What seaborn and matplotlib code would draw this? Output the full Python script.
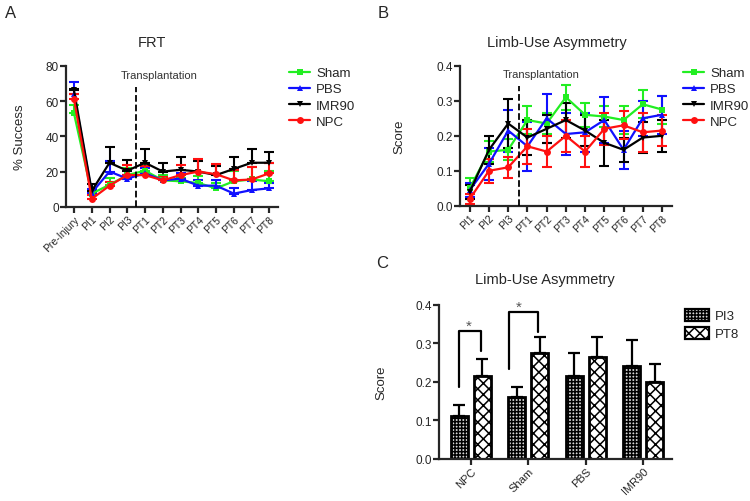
import numpy as np
import pandas as pd
import matplotlib
matplotlib.use("Agg")
import matplotlib.pyplot as plt
from matplotlib.lines import Line2D
from matplotlib.patches import Patch
import seaborn as sns

# ---- data ----
groups = ["Sham", "PBS", "IMR90", "NPC"]
colors = {"Sham": "#22ee22", "PBS": "#1010ff", "IMR90": "#000000", "NPC": "#ff1010"}
marks = {"Sham": "s", "PBS": "^", "IMR90": "v", "NPC": "o"}

frt_times = ["Pre-Injury", "PI1", "PI2", "PI3", "PT1", "PT2", "PT3", "PT4",
             "PT5", "PT6", "PT7", "PT8"]
frt_sham = [53, 7.5, 12.5, 18, 20.5, 15, 14.5, 13.5, 10.5, 14.5, 15.5, 14.5]
frt_pbs = [64, 8, 20, 16, 19, 15, 16, 12, 12, 7.5, 9.5, 10.5]
frt_imr90 = [66, 9, 25, 20.5, 25, 20, 21, 20, 18, 21.5, 25, 25]
frt_npc = [61, 4.5, 12, 18, 18, 15, 18, 20, 18.5, 15, 15.5, 19]
frt_err_sham = [5, 2, 4, 4, 3, 3, 2, 4, 3, 6, 7, 6]
frt_err_pbs = [7, 2, 6, 2, 3, 2, 3, 3, 3, 3, 5, 3]
frt_err_imr90 = [1, 4, 9, 6, 8, 5, 7, 6, 5, 7, 8, 6]
frt_err_npc = [3, 2, 2, 6, 5, 2, 6, 7, 6, 6, 7, 6]

lua_times = ["PI1", "PI2", "PI3", "PT1", "PT2", "PT3", "PT4", "PT5", "PT6", "PT7", "PT8"]
lua_sham = [0.05, 0.155, 0.16, 0.245, 0.235, 0.31, 0.26, 0.255, 0.245, 0.29, 0.275]
lua_pbs = [0.045, 0.12, 0.215, 0.17, 0.25, 0.205, 0.21, 0.245, 0.16, 0.25, 0.26]
lua_imr90 = [0.04, 0.16, 0.235, 0.195, 0.22, 0.245, 0.215, 0.18, 0.16, 0.195, 0.2]
lua_npc = [0.02, 0.1, 0.11, 0.17, 0.155, 0.2, 0.155, 0.22, 0.23, 0.21, 0.215]
lua_err_sham = [0.03, 0.03, 0.03, 0.04, 0.03, 0.035, 0.035, 0.03, 0.04, 0.04, 0.04]
lua_err_pbs = [0.02, 0.045, 0.06, 0.07, 0.07, 0.06, 0.055, 0.065, 0.055, 0.05, 0.055]
lua_err_imr90 = [0.02, 0.04, 0.07, 0.05, 0.04, 0.05, 0.045, 0.065, 0.035, 0.045, 0.045]
lua_err_npc = [0.015, 0.035, 0.03, 0.05, 0.045, 0.045, 0.045, 0.045, 0.04, 0.055, 0.045]

bar_groups = ["NPC", "Sham", "PBS", "IMR90"]
bar_pi3 = [0.11, 0.16, 0.215, 0.24]
bar_pt8 = [0.215, 0.275, 0.265, 0.2]
bar_err_pi3 = [0.03, 0.027, 0.06, 0.068]
bar_err_pt8 = [0.045, 0.04, 0.052, 0.045]

# ---- style ----
sns.set_style("ticks")
plt.rcParams["font.family"] = ["Liberation Sans", "DejaVu Sans"]
plt.rcParams["axes.linewidth"] = 1.6
plt.rcParams["xtick.major.width"] = 1.6
plt.rcParams["ytick.major.width"] = 1.6
plt.rcParams["xtick.major.size"] = 4
plt.rcParams["ytick.major.size"] = 4
plt.rcParams["hatch.linewidth"] = 1.1

fig = plt.figure(figsize=(7.5, 5.02), dpi=100)
axA = fig.add_axes([0.088, 0.586, 0.283, 0.281])
axB = fig.add_axes([0.613, 0.588, 0.283, 0.279])
axC = fig.add_axes([0.585, 0.084, 0.311, 0.307])


def long_frame(times, series):
    rows = []
    for g, vals in series.items():
        for t, v in zip(times, vals):
            rows.append({"time": t, "group": g, "value": v})
    return pd.DataFrame(rows)


def line_panel(ax, times, series, errs, both):
    df = long_frame(times, series)
    x = np.arange(len(times))
    for g in groups:
        e = np.array(errs[g])
        yerr = [e, e] if both else [np.zeros_like(e), e]
        ax.errorbar(x, series[g], yerr=yerr, fmt="none", ecolor=colors[g],
                    elinewidth=1.5, capsize=3.5, capthick=1.5, zorder=2)
    sns.lineplot(data=df, x="time", y="value", hue="group", style="group",
                 hue_order=groups, style_order=groups, palette=colors,
                 markers=marks, dashes=False, markersize=5, linewidth=1.6,
                 markeredgewidth=0, sort=False, legend=False, ax=ax, zorder=3)
    ax.set_xlabel("")
    ax.tick_params(axis="x", labelrotation=45, labelsize=7.5, pad=1)
    ax.tick_params(axis="y", labelsize=8.5, pad=1)
    for lab in ax.get_xticklabels():
        lab.set_ha("right")
        lab.set_rotation_mode("anchor")
    sns.despine(ax=ax)
    handles = [Line2D([0], [0], color=colors[g], marker=marks[g], lw=1.6,
                      markersize=5, markeredgewidth=0) for g in groups]
    return handles


leg_kw = dict(frameon=False, fontsize=9.5, handlelength=1.6, labelspacing=0.3,
              handletextpad=0.45, borderaxespad=0, borderpad=0)

# ---- A: FRT ----
hA = line_panel(axA, frt_times,
                {"Sham": frt_sham, "PBS": frt_pbs, "IMR90": frt_imr90, "NPC": frt_npc},
                {"Sham": frt_err_sham, "PBS": frt_err_pbs, "IMR90": frt_err_imr90,
                 "NPC": frt_err_npc}, both=False)
axA.set_xlim(-0.45, 11.5)
axA.set_ylim(0, 80)
axA.set_yticks([0, 20, 40, 60, 80])
axA.set_ylabel("% Success", fontsize=9.5, labelpad=14)
axA.plot([3.5, 3.5], [0, 68], ls="--", color="black", lw=1.3, zorder=4)
axA.text(4.8, 75, "Transplantation", fontsize=8, color="#333333", ha="center", va="center")
axA.legend(hA, groups, loc="upper left", bbox_to_anchor=(289 / 750, 1 - 68 / 502),
           bbox_transform=fig.transFigure, **leg_kw)

# ---- B: limb-use asymmetry over time ----
hB = line_panel(axB, lua_times,
                {"Sham": lua_sham, "PBS": lua_pbs, "IMR90": lua_imr90, "NPC": lua_npc},
                {"Sham": lua_err_sham, "PBS": lua_err_pbs, "IMR90": lua_err_imr90,
                 "NPC": lua_err_npc}, both=True)
axB.set_xlim(-0.52, 10.52)
axB.set_ylim(0, 0.4)
axB.set_yticks([0, 0.1, 0.2, 0.3, 0.4])
axB.set_yticklabels(["0.0", "0.1", "0.2", "0.3", "0.4"])
axB.set_ylabel("Score", fontsize=9.5, labelpad=22)
axB.plot([2.57, 2.57], [0, 0.343], ls="--", color="black", lw=1.3, zorder=4)
axB.text(3.7, 0.377, "Transplantation", fontsize=8, color="#333333", ha="center", va="center")
axB.legend(hB, groups, loc="upper left", bbox_to_anchor=(683 / 750, 1 - 68 / 502),
           bbox_transform=fig.transFigure, **leg_kw)

# ---- C: PI3 vs PT8 bars ----
dfC = pd.DataFrame({
    "group": bar_groups * 2,
    "time": ["PI3"] * 4 + ["PT8"] * 4,
    "score": bar_pi3 + bar_pt8,
})
sns.barplot(data=dfC, x="group", y="score", hue="time", order=bar_groups,
            hue_order=["PI3", "PT8"], errorbar=None, width=0.8, gap=0.27,
            palette=["#d8d8d8", "white"], edgecolor="black", linewidth=2,
            legend=False, ax=axC)
hatches = {"PI3": "+++++", "PT8": "xxx"}
for i, p in enumerate(axC.patches[:8]):
    t = "PI3" if i < 4 else "PT8"
    p.set_hatch(hatches[t])
    cx = p.get_x() + p.get_width() / 2
    j = i % 4
    val = bar_pi3[j] if t == "PI3" else bar_pt8[j]
    err = bar_err_pi3[j] if t == "PI3" else bar_err_pt8[j]
    axC.errorbar([cx], [val], yerr=[[0], [err]], fmt="none", ecolor="black",
                 elinewidth=1.6, capsize=4, capthick=1.6, zorder=1)

# significance brackets
axC.plot([-0.21, -0.21, 0.17, 0.17], [0.187, 0.332, 0.332, 0.281], color="black", lw=1.6)
axC.text(-0.03, 0.345, "*", ha="center", va="center", fontsize=11, color="#555555")
axC.plot([0.66, 0.66, 1.17, 1.17], [0.234, 0.382, 0.382, 0.33], color="black", lw=1.6,
         clip_on=False)
axC.text(0.84, 0.395, "*", ha="center", va="center", fontsize=11, color="#555555",
         clip_on=False)

axC.set_xlim(-0.56, 3.5)
axC.set_ylim(0, 0.4)
axC.set_yticks([0, 0.1, 0.2, 0.3, 0.4])
axC.set_yticklabels(["0.0", "0.1", "0.2", "0.3", "0.4"])
axC.set_xlabel("")
axC.set_ylabel("Score", fontsize=9.5, labelpad=20)
axC.tick_params(axis="x", labelrotation=45, labelsize=8, pad=1)
axC.tick_params(axis="y", labelsize=8.5, pad=1)
for lab in axC.get_xticklabels():
    lab.set_ha("right")
    lab.set_rotation_mode("anchor")
sns.despine(ax=axC)
legC = [Patch(facecolor="#d8d8d8", edgecolor="black", hatch="+++++", lw=1.6),
        Patch(facecolor="white", edgecolor="black", hatch="xxx", lw=1.6)]
axC.legend(legC, ["PI3", "PT8"], loc="upper left", bbox_to_anchor=(685 / 750, 1 - 310 / 502),
           bbox_transform=fig.transFigure, frameon=False, fontsize=9.5,
           handlelength=1.8, handleheight=1.0, labelspacing=0.35, handletextpad=0.5,
           borderaxespad=0, borderpad=0)

# titles and panel letters
fig.text(152 / 750, 1 - 43 / 502, "FRT", fontsize=10.5, ha="center", va="center")
fig.text(557 / 750, 1 - 43 / 502, "Limb-Use Asymmetry", fontsize=10.5, ha="center",
         va="center")
fig.text(545 / 750, 1 - 280 / 502, "Limb-Use Asymmetry", fontsize=10.5, ha="center",
         va="center")
fig.text(5 / 750, 1 - 14 / 502, "A", fontsize=12, ha="left", va="center")
fig.text(378 / 750, 1 - 14 / 502, "B", fontsize=12, ha="left", va="center")
fig.text(376 / 750, 1 - 263 / 502, "C", fontsize=12, ha="left", va="center")

fig.savefig("out.png", dpi=100)
